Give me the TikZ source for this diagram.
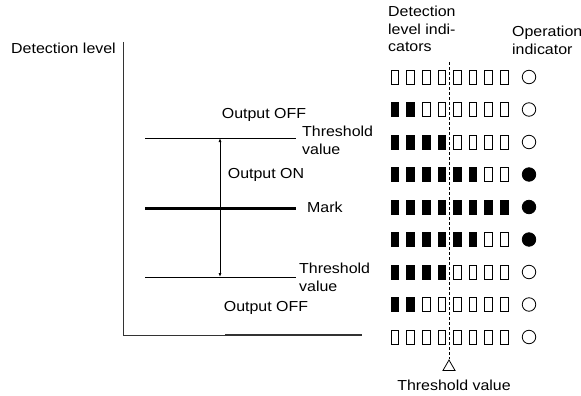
\documentclass[tikz,border=0pt]{standalone}
\usepackage{fontspec}
\setmainfont[FakeStretch=1.1]{Liberation Sans}
\usetikzlibrary{shapes.geometric,arrows.meta}
\begin{document}
\begin{tikzpicture}[x=1pt,y=-1pt,
  font=\fontsize{14.5}{17.5}\selectfont,
  lbl/.style={inner sep=0pt, align=left},
  seg/.style={draw, line width=0.8pt, minimum width=7.5pt, minimum height=14pt, inner sep=0pt},
  segon/.style={seg, fill=black},
  ind/.style={draw, circle, line width=0.8pt, minimum size=13.5pt, inner sep=0pt},
  indon/.style={ind, fill=black},
  axis/.style={line width=1pt, draw=black!80},
  thr/.style={line width=0.8pt},
  markline/.style={line width=3pt},
  dim/.style={line width=0.8pt, {Latex[length=4pt,width=3pt]}-{Latex[length=4pt,width=3pt]}},
  tick/.style={dashed, line width=0.8pt, dash pattern=on 3pt off 2pt}
]
\useasboundingbox (0,0) rectangle (581,396);
% axes
\coordinate (org) at (123,335);
\coordinate (ytop) at (123,42);
\coordinate (xmid) at (225,335);
\coordinate (xend) at (362,335);
\draw[axis] (ytop) -- (org) -- (xmid);
\draw[axis, line width=2pt] (xmid) -- (xend);
\node[lbl, anchor=east] (dl) at (116,48) {Detection level};
% threshold lines
\coordinate (t1a) at (145,138); \coordinate (t1b) at (296,138);
\coordinate (ma) at (145,208); \coordinate (mb) at (296,208);
\coordinate (t2a) at (145,277); \coordinate (t2b) at (296,277);
\draw[thr] (t1a) -- (t1b);
\draw[markline] (ma) -- (mb);
\draw[thr] (t2a) -- (t2b);
\coordinate (arT) at (220,138); \coordinate (arB) at (220,277);
\draw[dim] (arT) -- (arB);
\node[lbl] (off1) at (264,115) {Output OFF};
\node[lbl, anchor=north west] (th1) at (302,126) {Threshold\\value};
\node[lbl] (on) at (266,175) {Output ON};
\node[lbl, anchor=west] (mk) at (307,207) {Mark};
\node[lbl, anchor=north west] (th2) at (299,263) {Threshold\\value};
\node[lbl] (off2) at (266,308) {Output OFF};
% right side headers
\node[lbl, anchor=north west] (hdl) at (388,6) {Detection\\level indi-\\cators};
\node[lbl, anchor=north west] (hop) at (512,26) {Operation\\indicator};
% indicator rows
\foreach \r/\n/\c in {1/0/0,2/2/0,3/4/0,4/6/1,5/8/1,6/6/1,7/4/0,8/2/0,9/0/0}{
  \pgfmathsetmacro{\yy}{77+32.5*(\r-1)}
  \foreach \i in {1,...,8}{
    \pgfmathsetmacro{\xx}{395+15.6*(\i-1)}
    \ifnum\i>\n
      \node[seg] (s\r-\i) at (\xx,\yy) {};
    \else
      \node[segon] (s\r-\i) at (\xx,\yy) {};
    \fi
  }
  \ifnum\c=1
    \node[indon] (c\r) at (529,\yy) {};
  \else
    \node[ind] (c\r) at (529,\yy) {};
  \fi
}
% dashed threshold marker
\coordinate (dtop) at (449,62);
\node[draw, regular polygon, regular polygon sides=3, minimum size=14pt, inner sep=0pt, line width=0.8pt] (tri) at (449,367) {};
\draw[tick] (dtop) -- (tri.corner 1);
\node[lbl] (thb) at (454,385) {Threshold value};
\end{tikzpicture}
\end{document}
